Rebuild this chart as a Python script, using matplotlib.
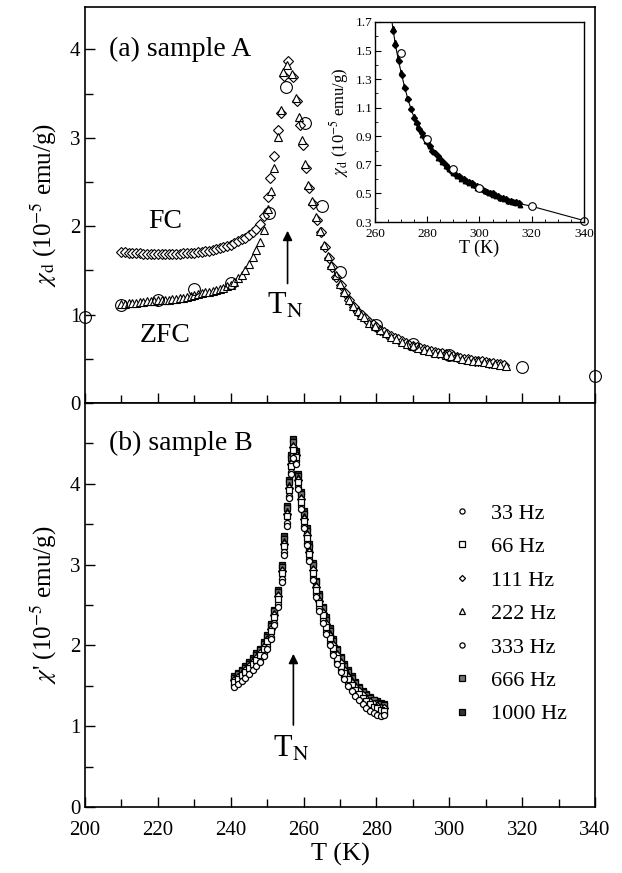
import numpy as np
import matplotlib
matplotlib.use('Agg')
import matplotlib.pyplot as plt
from matplotlib.ticker import MultipleLocator

plt.rcParams['font.family'] = ['Liberation Serif', 'DejaVu Serif']
plt.rcParams['mathtext.fontset'] = 'stix'

# ---- panel (a): sample A, dc susceptibility ----
T_fc = [210, 211, 212, 213, 214, 215, 216, 217, 218, 219, 220, 221, 222, 223, 224, 225,
        226, 227, 228, 229, 230, 231, 232, 233, 234, 235, 236, 237, 238, 239, 240, 241,
        242, 243, 244, 245, 246, 247, 248, 249, 250.2, 250.8, 251.9, 253.0, 253.8, 254.6,
        255.7, 257.1, 258.2, 259.0, 259.8, 260.7, 261.5, 262.6, 263.7, 264.8, 265.9, 267.0,
        267.8, 269.0, 270.2, 271.4, 272.6, 273.8, 275, 276, 277, 278, 279, 280, 281, 282,
        283, 284, 285, 286, 287, 288, 289, 290, 291, 292, 293, 294, 295, 296, 297, 298,
        299, 300, 301, 302, 303, 304, 305, 306, 307, 308, 309, 310, 311, 312, 313, 314, 315]
chi_fc = [1.71, 1.71, 1.70, 1.70, 1.70, 1.70, 1.69, 1.69, 1.69, 1.69, 1.69, 1.69, 1.69, 1.69,
          1.69, 1.69, 1.69, 1.70, 1.70, 1.70, 1.70, 1.71, 1.71, 1.72, 1.72, 1.73, 1.74, 1.75,
          1.76, 1.78, 1.79, 1.81, 1.83, 1.85, 1.87, 1.90, 1.93, 1.97, 2.03, 2.11, 2.33, 2.54,
          2.79, 3.09, 3.28, 3.70, 3.87, 3.69, 3.42, 3.15, 2.92, 2.66, 2.43, 2.25, 2.07, 1.93,
          1.77, 1.64, 1.54, 1.43, 1.33, 1.24, 1.16, 1.09, 1.03, 0.99, 0.95, 0.92, 0.89, 0.86,
          0.83, 0.80, 0.78, 0.76, 0.74, 0.72, 0.70, 0.68, 0.66, 0.65, 0.63, 0.62, 0.61, 0.60,
          0.59, 0.58, 0.57, 0.56, 0.55, 0.54, 0.53, 0.52, 0.51, 0.50, 0.50, 0.49, 0.48, 0.47,
          0.47, 0.46, 0.45, 0.45, 0.44, 0.44, 0.43]

T_zfc = [210, 211, 212, 213, 214, 215, 216, 217, 218, 219, 220, 221, 222, 223, 224, 225,
         226, 227, 228, 229, 230, 231, 232, 233, 234, 235, 236, 237, 238, 239, 240, 241,
         242, 243, 244, 245, 246, 247, 248, 249, 250.1, 251.0, 251.9, 253.0, 253.7, 254.4,
         255.5, 256.9, 258.0, 258.8, 259.6, 260.5, 261.3, 262.4, 263.5, 264.6, 265.7, 266.8,
         267.6, 268.8, 270.0, 271.2, 272.4, 273.6, 274.8, 275.8, 276.5, 278, 279.5, 281,
         282.5, 284, 285.5, 287, 288.5, 290, 291.5, 293, 294.5, 296, 297.5, 299, 300.5, 302,
         303.5, 305, 306.5, 308, 309.5, 311, 312.5, 314, 315.5]
chi_zfc = [1.12, 1.12, 1.13, 1.13, 1.13, 1.14, 1.14, 1.15, 1.15, 1.15, 1.16, 1.16, 1.17, 1.17,
           1.18, 1.18, 1.19, 1.19, 1.20, 1.21, 1.22, 1.23, 1.24, 1.25, 1.26, 1.27, 1.28, 1.29,
           1.30, 1.32, 1.34, 1.37, 1.41, 1.45, 1.51, 1.57, 1.65, 1.73, 1.82, 1.96, 2.20, 2.40,
           2.66, 3.01, 3.32, 3.74, 3.82, 3.72, 3.45, 3.24, 2.97, 2.70, 2.47, 2.28, 2.10, 1.95,
           1.79, 1.66, 1.56, 1.45, 1.35, 1.25, 1.17, 1.10, 1.04, 1.00, 0.97, 0.91, 0.87, 0.83,
           0.79, 0.75, 0.72, 0.69, 0.67, 0.64, 0.62, 0.60, 0.59, 0.57, 0.56, 0.54, 0.53, 0.52,
           0.50, 0.49, 0.48, 0.47, 0.46, 0.45, 0.44, 0.43, 0.42]

T_circ = [200, 210, 220, 230, 240, 250.5, 255.2, 260.5, 265, 270, 280, 290, 300, 320, 340]
chi_circ = [0.97, 1.11, 1.17, 1.29, 1.36, 2.15, 3.58, 3.17, 2.23, 1.48, 0.88, 0.67, 0.54, 0.41, 0.31]

# ---- panel (b): sample B, ac susceptibility ----
T_ac = [241, 242, 243, 244, 245, 246, 247, 248, 249, 250, 251, 252, 253, 254, 254.7, 255.4,
        256.0, 256.6, 257.2, 257.8, 258.5, 259.2, 260.0, 260.8, 261.6, 262.5, 263.4, 264.3,
        265.2, 266.2, 267.2, 268.2, 269.2, 270.2, 271.2, 272.2, 273.2, 274.2, 275.2, 276.2,
        277.2, 278.2, 279.2, 280.2, 281.2, 282.2]
chi_1000 = [1.62, 1.66, 1.70, 1.74, 1.79, 1.84, 1.90, 1.96, 2.04, 2.13, 2.26, 2.44, 2.68, 3.00,
            3.35, 3.72, 4.05, 4.35, 4.55, 4.40, 4.12, 3.90, 3.66, 3.45, 3.25, 3.02, 2.80, 2.63,
            2.48, 2.35, 2.21, 2.08, 1.96, 1.86, 1.77, 1.69, 1.62, 1.55, 1.49, 1.44, 1.40, 1.36,
            1.33, 1.31, 1.29, 1.28]
chi_666 = [1.60, 1.64, 1.68, 1.72, 1.77, 1.82, 1.88, 1.94, 2.02, 2.11, 2.24, 2.42, 2.66, 2.97,
           3.32, 3.70, 4.02, 4.32, 4.52, 4.38, 4.10, 3.87, 3.63, 3.42, 3.22, 2.99, 2.78, 2.61,
           2.46, 2.32, 2.18, 2.06, 1.94, 1.84, 1.75, 1.67, 1.60, 1.53, 1.47, 1.42, 1.38, 1.35,
           1.32, 1.29, 1.27, 1.26]
chi_222 = [1.58, 1.62, 1.66, 1.70, 1.75, 1.80, 1.86, 1.92, 2.00, 2.09, 2.22, 2.40, 2.63, 2.94,
           3.29, 3.66, 3.98, 4.28, 4.48, 4.40, 4.08, 3.84, 3.60, 3.39, 3.19, 2.96, 2.75, 2.58,
           2.43, 2.29, 2.15, 2.03, 1.91, 1.81, 1.72, 1.64, 1.57, 1.50, 1.45, 1.40, 1.36, 1.32,
           1.29, 1.27, 1.25, 1.24]
chi_111 = [1.57, 1.61, 1.65, 1.69, 1.74, 1.79, 1.84, 1.90, 1.98, 2.07, 2.20, 2.38, 2.61, 2.92,
           3.26, 3.63, 3.95, 4.25, 4.45, 4.36, 4.05, 3.81, 3.57, 3.36, 3.16, 2.93, 2.72, 2.55,
           2.40, 2.26, 2.12, 2.00, 1.88, 1.78, 1.69, 1.61, 1.54, 1.48, 1.43, 1.38, 1.34, 1.30,
           1.27, 1.25, 1.23, 1.22]
chi_66 = [1.55, 1.59, 1.63, 1.67, 1.72, 1.77, 1.82, 1.88, 1.96, 2.05, 2.18, 2.35, 2.58, 2.89,
          3.23, 3.60, 3.92, 4.22, 4.42, 4.33, 4.02, 3.78, 3.54, 3.33, 3.13, 2.90, 2.69, 2.52,
          2.37, 2.23, 2.09, 1.97, 1.85, 1.75, 1.66, 1.58, 1.51, 1.45, 1.40, 1.35, 1.31, 1.27,
          1.24, 1.22, 1.20, 1.19]
chi_333 = [1.51, 1.55, 1.59, 1.63, 1.67, 1.72, 1.77, 1.83, 1.90, 1.99, 2.11, 2.28, 2.51, 2.82,
           3.16, 3.52, 3.85, 4.15, 4.35, 4.28, 3.96, 3.72, 3.48, 3.27, 3.07, 2.84, 2.63, 2.46,
           2.31, 2.17, 2.03, 1.91, 1.80, 1.70, 1.61, 1.53, 1.46, 1.40, 1.35, 1.30, 1.26, 1.22,
           1.19, 1.17, 1.15, 1.15]
chi_33 = [1.48, 1.52, 1.56, 1.60, 1.64, 1.69, 1.74, 1.80, 1.87, 1.96, 2.08, 2.25, 2.48, 2.79,
          3.12, 3.48, 3.82, 4.12, 4.32, 4.25, 3.93, 3.69, 3.45, 3.24, 3.04, 2.81, 2.60, 2.43,
          2.28, 2.14, 2.00, 1.88, 1.77, 1.67, 1.58, 1.50, 1.43, 1.37, 1.32, 1.27, 1.23, 1.19,
          1.16, 1.14, 1.13, 1.14]

freq_labels = ['33 Hz', '66 Hz', '111 Hz', '222 Hz', '333 Hz', '666 Hz', '1000 Hz']
freq_data = [chi_33, chi_66, chi_111, chi_222, chi_333, chi_666, chi_1000]
freq_marker = ['o', 's', 'D', '^', 'o', 's', 's']
freq_face = ['white', 'white', 'white', 'white', 'white', '0.45', '0.2']
freq_ms = [4.4, 4.4, 3.6, 4.4, 4.4, 4.6, 4.8]

fig = plt.figure(figsize=(6.22, 8.73), dpi=100)
ax1 = fig.add_axes([0.1367, 0.5384, 0.8199, 0.4536])
ax2 = fig.add_axes([0.1367, 0.0756, 0.8199, 0.4628])

for ax in (ax1, ax2):
    ax.set_xlim(200, 340)
    ax.xaxis.set_major_locator(MultipleLocator(20))
    ax.xaxis.set_minor_locator(MultipleLocator(10))
    ax.yaxis.set_minor_locator(MultipleLocator(0.5))
    ax.set_yticks([0, 1, 2, 3, 4])
    ax.tick_params(which='both', direction='in', top=False, right=False,
                   width=1.0, labelsize=15)
    ax.tick_params(which='major', length=7)
    ax.tick_params(which='minor', length=6)
    ax.tick_params(axis='x', pad=10)
    for s in ax.spines.values():
        s.set_linewidth(1.2)

# panel (a)
ax1.set_ylim(0, 4.48)
ax1.tick_params(axis='x', labelbottom=False)
ax1.plot(T_fc, chi_fc, 'D', ms=4.6, mfc='white', mec='black', mew=0.8, clip_on=False)
ax1.plot(T_zfc, chi_zfc, '^', ms=5.2, mfc='white', mec='black', mew=0.8, clip_on=False)
ax1.plot(T_circ, chi_circ, 'o', ms=8.5, mfc='none', mec='black', mew=0.8, clip_on=False)
ax1.text(206.5, 4.0, '(a) sample A', fontsize=20, ha='left', va='center')
ax1.text(222, 2.05, 'FC', fontsize=20, ha='center', va='center')
ax1.text(222, 0.76, 'ZFC', fontsize=20, ha='center', va='center')
ax1.annotate('', xy=(255.6, 1.98), xytext=(255.6, 1.32),
             arrowprops=dict(arrowstyle='-|>', color='black', lw=1.2, mutation_scale=14))
ax1.text(254.8, 1.1, r'T$_{\mathrm{N}}$', fontsize=22, ha='center', va='center')
ax1.set_ylabel(r'$\chi_{\mathrm{d}}$ (10$^{-5}$ emu/g)', fontsize=18, labelpad=8)

# inset
axin = fig.add_axes([0.6029, 0.7457, 0.3360, 0.2291])
axin.set_xlim(260, 340)
axin.set_ylim(0.3, 1.7)
axin.xaxis.set_major_locator(MultipleLocator(20))
axin.xaxis.set_minor_locator(MultipleLocator(5))
axin.yaxis.set_major_locator(MultipleLocator(0.2))
axin.yaxis.set_minor_locator(MultipleLocator(0.1))
axin.tick_params(which='both', direction='in', top=False, right=False, labelsize=9.5, pad=2)
axin.tick_params(axis='x', pad=4)
axin.tick_params(which='major', length=4)
axin.tick_params(which='minor', length=2)
axin.set_yticks([0.3, 0.5, 0.7, 0.9, 1.1, 1.3, 1.5, 1.7])
for s in axin.spines.values():
    s.set_linewidth(1.0)
line_T = [t for t in T_fc if t >= 265] + [320, 340]
line_chi = [c for t, c in zip(T_fc, chi_fc) if t >= 265] + [chi_circ[-2], chi_circ[-1]]
axin.plot(line_T, line_chi, '-', color='black', lw=0.8)
axin.plot(T_fc, chi_fc, 'D', ms=3.0, color='black')
axin.plot(T_zfc, chi_zfc, '^', ms=3.2, color='black')
in_T = [t for t in T_circ if t >= 265]
in_chi = [c for t, c in zip(T_circ, chi_circ) if t >= 265]
axin.plot(in_T, in_chi, 'o', ms=5.5, mfc='white', mec='black', mew=0.8, clip_on=False)
axin.set_xlabel('T (K)', fontsize=13, labelpad=0)
axin.set_ylabel(r'$\chi_{\mathrm{d}}$ (10$^{-5}$ emu/g)', fontsize=12, labelpad=3)

# panel (b)
ax2.set_ylim(0, 5)
for k in range(len(freq_data) - 1, -1, -1):
    ax2.plot(T_ac, freq_data[k], freq_marker[k], ms=freq_ms[k], mfc=freq_face[k],
             mec='black', mew=0.9, label=freq_labels[k])
handles, labels = ax2.get_legend_handles_labels()
ax2.legend(handles[::-1], labels[::-1], loc='upper left', bbox_to_anchor=(0.718, 0.752),
           frameon=False, fontsize=16, handlelength=1.0, handletextpad=0.8,
           labelspacing=0.58, borderpad=0, borderaxespad=0, markerscale=0.85)
ax2.text(206.5, 4.5, '(b) sample B', fontsize=20, ha='left', va='center')
ax2.annotate('', xy=(257.2, 1.93), xytext=(257.2, 0.98),
             arrowprops=dict(arrowstyle='-|>', color='black', lw=1.2, mutation_scale=14))
ax2.text(256.6, 0.72, r'T$_{\mathrm{N}}$', fontsize=22, ha='center', va='center')
ax2.set_ylabel(r"$\chi$' (10$^{-5}$ emu/g)", fontsize=18, labelpad=8)
ax2.set_xlabel('T (K)', fontsize=19, labelpad=2)

fig.savefig('out.png', dpi=100)
